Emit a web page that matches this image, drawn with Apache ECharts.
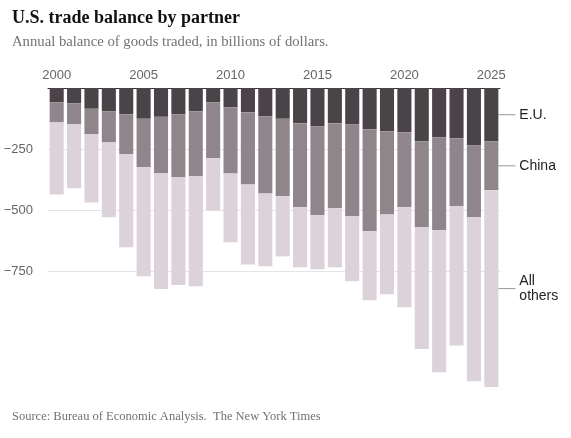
<!DOCTYPE html>
<html>
<head>
<meta charset="utf-8">
<script src="https://cdn.jsdelivr.net/npm/echarts@6/dist/echarts.min.js"></script>
<style>
html,body{margin:0;padding:0;background:#fff;}
#chart{width:571px;height:438px;}
</style>
</head>
<body>
<div id="chart"></div>
<script>
const years = ['2000','2001','2002','2003','2004','2005','2006','2007','2008','2009','2010','2011','2012','2013','2014','2015','2016','2017','2018','2019','2020','2021','2022','2023','2024','2025'];
const euBalance = [-59,-63,-85,-96,-108,-126,-118,-108,-96,-59,-79,-100,-116,-126,-145,-157,-145,-149,-169,-178,-182,-219,-202,-206,-235,-219];
const chinaBalance = [-82,-86,-105,-127,-164,-199,-232,-258,-266,-229,-271,-295,-316,-318,-344,-365,-348,-377,-418,-340,-307,-352,-381,-279,-295,-200];
const othersBalance = [-295,-262,-279,-307,-381,-447,-474,-441,-451,-213,-282,-328,-299,-246,-246,-221,-242,-266,-283,-327,-410,-499,-582,-570,-672,-806];
const gridValues = [-250,-500,-750];
const seriesNames = ['E.U.','China','All others'];
const seriesLabels = ['E.U.','China','All\nothers'];
const colors = ['#4a4348','#8f868c','#dcd2da'];

const last = years.length - 1;
function buildData(vals){
  return vals.map((v,i)=> i===last ? {value:v, label:{show:true}, labelLine:{show:true}} : v);
}
const allVals = [euBalance, chinaBalance, othersBalance];

const chart = echarts.init(document.getElementById('chart'), null, {renderer:'canvas'});
const series = allVals.map((vals,k)=>({
  name: seriesNames[k],
  type: 'bar',
  stack: 'total',
  barCategoryGap: '19%',
  data: buildData(vals),
  itemStyle: {color: colors[k]},
  label: {
    show: false,
    position: 'right',
    distance: 5,
    formatter: seriesLabels[k],
    color: '#222',
    fontSize: 14,
    lineHeight: 15,
    fontFamily: 'Liberation Sans, Arial, sans-serif',
    align: 'left',
    padding: [0,0,0,4]
  },
  labelLayout: {dx: 12},
  labelLine: {show: false, lineStyle: {color: '#999', width: 1}, length2: 0},
  emphasis: {disabled: true},
  silent: true,
  z: 3,
  markLine: k===0 ? {
    silent: true,
    symbol: 'none',
    label: {show: false},
    lineStyle: {color: '#e4e4e4', type: 'solid', width: 1},
    z: 1,
    data: gridValues.map(v=>({yAxis: v}))
  } : undefined
}));

chart.setOption({
  animation: false,
  backgroundColor: '#fff',
  title: [
    {text: 'U.S. trade balance by partner', left: 7, top: 4,
     textStyle: {fontFamily: 'Liberation Serif, serif', fontWeight: 'bold', fontSize: 18, color: '#121212'}},
    {text: 'Annual balance of goods traded, in billions of dollars.', left: 7, top: 30,
     textStyle: {fontFamily: 'Liberation Serif, serif', fontWeight: 'normal', fontSize: 14.7, color: '#727272'}},
    {text: 'Source: Bureau of Economic Analysis.  The New York Times', left: 7, top: 405,
     textStyle: {fontFamily: 'Liberation Serif, serif', fontWeight: 'normal', fontSize: 12.5, color: '#727272'}}
  ],
  grid: {left: 48, right: 71, top: 88, bottom: 45, containLabel: false},
  xAxis: {
    type: 'category',
    position: 'top',
    data: years,
    axisLine: {show: true, lineStyle: {color: '#333', width: 1}},
    axisTick: {show: false},
    axisLabel: {
      interval: (i, v) => Number(v) % 5 === 0,
      color: '#666', fontSize: 13, margin: 6,
      fontFamily: 'Liberation Sans, Arial, sans-serif'
    },
    splitLine: {show: false}
  },
  yAxis: {
    type: 'value',
    min: -1250, max: 0, interval: 250,
    axisLine: {show: false},
    axisTick: {show: false},
    splitLine: {show: false},
    axisLabel: {
      margin: 15,
      color: '#666', fontSize: 13,
      fontFamily: 'Liberation Sans, Arial, sans-serif',
      formatter: v => gridValues.includes(v) ? String(v).replace('-', '\u2212') : ''
    }
  },
  series: series
});
</script>
</body>
</html>
